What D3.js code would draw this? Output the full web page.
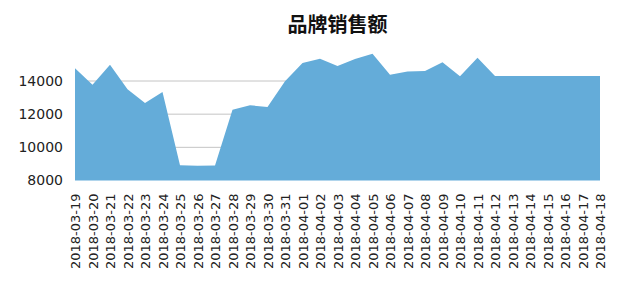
<!DOCTYPE html>
<html>
<head>
<meta charset="utf-8">
<script src="https://cdn.jsdelivr.net/npm/d3@7"></script>
<style>
  html, body { margin: 0; padding: 0; background: #fff; }
  svg { display: block; }
</style>
</head>
<body>
<svg id="chart" width="640" height="292"></svg>
<script>
// Daily brand sales, 2018-03-19 .. 2018-04-18
const dates = [
  "2018-03-19","2018-03-20","2018-03-21","2018-03-22","2018-03-23","2018-03-24",
  "2018-03-25","2018-03-26","2018-03-27","2018-03-28","2018-03-29","2018-03-30",
  "2018-03-31","2018-04-01","2018-04-02","2018-04-03","2018-04-04","2018-04-05",
  "2018-04-06","2018-04-07","2018-04-08","2018-04-09","2018-04-10","2018-04-11",
  "2018-04-12","2018-04-13","2018-04-14","2018-04-15","2018-04-16","2018-04-17",
  "2018-04-18"
];
const sales = [
  14770, 13780, 14980, 13500, 12680, 13340,
  8920, 8890, 8910, 12260, 12540, 12430,
  13980, 15090, 15340, 14900, 15320, 15650,
  14380, 14580, 14600, 15130, 14290, 15400,
  14300, 14300, 14300, 14300, 14300, 14300,
  14300
];
const yTicks = [8000, 10000, 12000, 14000];
const gridTicks = [10000, 12000, 14000];
const title = "品牌销售额";

const svg = d3.select("#chart");
const left = 75, right = 600;

const x = d3.scalePoint().domain(dates).range([left, right]);
const y = d3.scaleLinear().domain([8000, 14000]).range([180.5, 81]);

// horizontal grid lines, drawn beneath the filled area
svg.append("g")
  .selectAll("line")
  .data(gridTicks)
  .join("line")
  .attr("x1", left).attr("x2", right)
  .attr("y1", d => y(d)).attr("y2", d => y(d))
  .attr("stroke", "#c4c4c4")
  .attr("stroke-width", 1);

// filled area down to the axis floor
const area = d3.area()
  .x((d, i) => x(dates[i]))
  .y0(y(8000))
  .y1(d => y(d));

svg.append("path")
  .datum(sales)
  .attr("d", area)
  .attr("fill", "#64acd9");

// y axis: labels only, plain integers
const yAxis = d3.axisLeft(y).tickValues(yTicks).tickFormat(d3.format("d"))
  .tickSize(0).tickPadding(12);
const gy = svg.append("g").attr("transform", `translate(${left},0)`).call(yAxis);
gy.select(".domain").remove();
gy.selectAll("text")
  .attr("font-family", "DejaVu Sans")
  .attr("font-size", 14)
  .attr("fill", "#222");

// x axis: rotated date labels
const xAxis = d3.axisBottom(x).tickSize(0).tickPadding(0);
const gx = svg.append("g").attr("transform", `translate(0,${y(8000)})`).call(xAxis);
gx.select(".domain").remove();
gx.selectAll("text")
  .attr("font-family", "DejaVu Sans")
  .attr("font-size", 13)
  .attr("fill", "#222")
  .attr("text-anchor", "end")
  .attr("transform", "rotate(-90)")
  .attr("x", -13)
  .attr("y", 0)
  .attr("dy", "0.35em");

// chart title
svg.append("text")
  .attr("x", (left + right) / 2)
  .attr("y", 32)
  .attr("text-anchor", "middle")
  .attr("font-family", "Noto Sans CJK SC")
  .attr("font-weight", "bold")
  .attr("font-size", 20)
  .attr("fill", "#111")
  .text(title);
</script>
</body>
</html>
